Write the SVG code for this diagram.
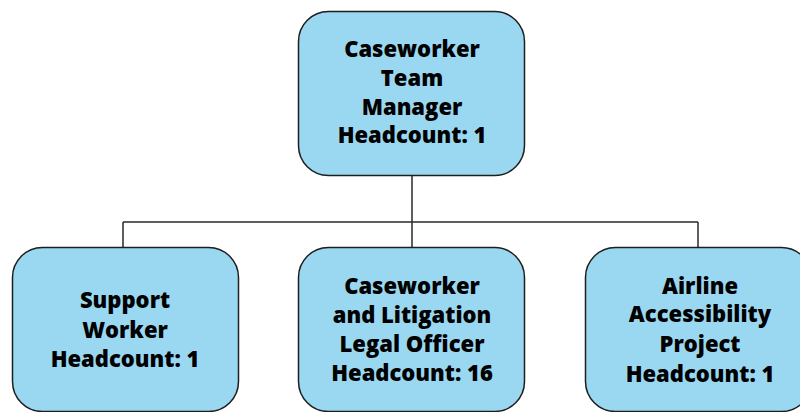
<svg xmlns="http://www.w3.org/2000/svg" width="800" height="412" viewBox="0 0 800 412">
  <style>
    .box { fill: #9ad8f2; stroke: #1e1e1e; stroke-width: 1.5; }
    .lbl { font-family: "Open Sans", "Liberation Sans", sans-serif; font-weight: 800; font-size: 22px; fill: #000; text-anchor: middle; }
    .wire { fill: none; stroke: #2a2a2a; stroke-width: 1.5; }
  </style>
  <rect width="800" height="412" fill="#ffffff"/>
  <g id="connectors">
    <path class="wire" d="M412 176 V222 M123 222 H698 M123 222 V248 M412 222 V248 M698 222 V248"/>
  </g>
  <g id="manager">
    <rect class="box" x="298.5" y="11.5" width="226" height="164" rx="30"/>
    <text class="lbl" x="412" y="57">Caseworker</text>
    <text class="lbl" x="412" y="86">Team</text>
    <text class="lbl" x="412" y="115">Manager</text>
    <text class="lbl" x="412" y="143">Headcount: 1</text>
  </g>
  <g id="support">
    <rect class="box" x="12.5" y="247.5" width="226" height="164" rx="30"/>
    <text class="lbl" x="125" y="308">Support</text>
    <text class="lbl" x="125" y="338">Worker</text>
    <text class="lbl" x="125" y="367">Headcount: 1</text>
  </g>
  <g id="caseworker">
    <rect class="box" x="298.5" y="247.5" width="226" height="164" rx="30"/>
    <text class="lbl" x="412" y="294">Caseworker</text>
    <text class="lbl" x="412" y="323">and Litigation</text>
    <text class="lbl" x="412" y="352">Legal Officer</text>
    <text class="lbl" x="412" y="381">Headcount: 16</text>
  </g>
  <g id="airline">
    <rect class="box" x="585.5" y="247.5" width="226" height="164" rx="30"/>
    <text class="lbl" x="700" y="294">Airline</text>
    <text class="lbl" x="700" y="322">Accessibility</text>
    <text class="lbl" x="700" y="352">Project</text>
    <text class="lbl" x="700" y="382">Headcount: 1</text>
  </g>
</svg>
